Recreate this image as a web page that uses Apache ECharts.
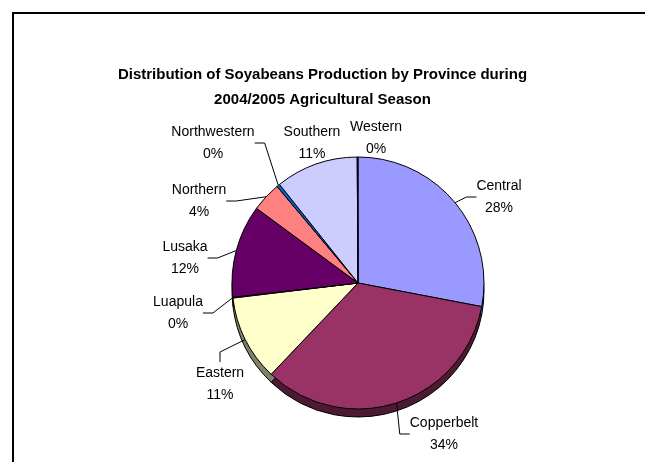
<!DOCTYPE html>
<html>
<head>
<meta charset="utf-8">
<script src="https://cdn.jsdelivr.net/npm/echarts@6/dist/echarts.min.js"></script>
<style>html,body{margin:0;padding:0;background:#fff}#c{width:645px;height:462px}</style>
</head>
<body>
<div id="c"></div>
<script>
const provinces = ['Central','Copperbelt','Eastern','Luapula','Lusaka','Northern','Northwestern','Southern','Western'];
const shares = [28.0, 34.1, 11.0, 0.1, 11.9, 3.8, 0.4, 10.6, 0.1];
const titleText = 'Distribution of Soyabeans Production by Province during\n2004/2005 Agricultural Season';

const sliceColors = ['#9999FF','#993366','#FFFFCC','#CCFFFF','#660066','#FF8080','#0066CC','#CCCCFF','#000080'];
const labelPos = {
  Central:[499,197], Copperbelt:[444,434], Eastern:[220,384], Luapula:[178,313],
  Lusaka:[185,258], Northern:[199,201], Northwestern:[213,143], Southern:[312,143], Western:[376,138]
};
const noLine = {Southern:true, Western:true};

function darken(hex, f){
  const n = parseInt(hex.slice(1),16);
  const r = Math.round(((n>>16)&255)*f), g = Math.round(((n>>8)&255)*f), b = Math.round((n&255)*f);
  return 'rgb('+r+','+g+','+b+')';
}

const FONT = '"Liberation Sans", Arial, sans-serif';
const topData = provinces.map((p,i)=>({
  name:p, value:shares[i],
  itemStyle:{color:sliceColors[i]},
  labelLine:{show:!noLine[p]}
}));
const sideData = provinces.map((p,i)=>({
  name:p, value:shares[i],
  itemStyle:{color:darken(sliceColors[i],0.5)}
}));

const chart = echarts.init(document.getElementById('c'), null, {renderer:'canvas'});
chart.setOption({
  animation:false,
  backgroundColor:'#ffffff',
  title:{
    text:titleText, left:'center', top:57,
    textStyle:{fontFamily:FONT, fontSize:15, fontWeight:'bold', color:'#000', lineHeight:25, align:'center'}
  },
  graphic:[{type:'rect', shape:{x:13,y:13,width:700,height:500}, style:{fill:'none', stroke:'#000', lineWidth:2}, silent:true}],
  series:[
    {
      type:'pie', z:1, silent:true, startAngle:90, clockwise:true,
      center:[358,291], radius:126,
      label:{show:false}, labelLine:{show:false},
      itemStyle:{borderColor:'#000', borderWidth:1},
      data:sideData
    },
    {
      type:'pie', z:2, startAngle:90, clockwise:true,
      center:[358,283], radius:126,
      avoidLabelOverlap:false,
      itemStyle:{borderColor:'#000', borderWidth:1},
      label:{
        show:true, position:'outside', fontFamily:FONT, fontSize:14, color:'#000',
        lineHeight:22, align:'center',
        formatter:p=>p.name+'\n'+Math.round(p.percent)+'%'
      },
      labelLine:{show:true, length:12, length2:10, lineStyle:{color:'#000', width:1}},
      labelLayout:function(params){
        const pos = labelPos[provinces[params.dataIndex]];
        return {x:pos[0], y:pos[1], align:'center', verticalAlign:'middle'};
      },
      emphasis:{disabled:true},
      data:topData
    }
  ]
});
</script>
</body>
</html>
